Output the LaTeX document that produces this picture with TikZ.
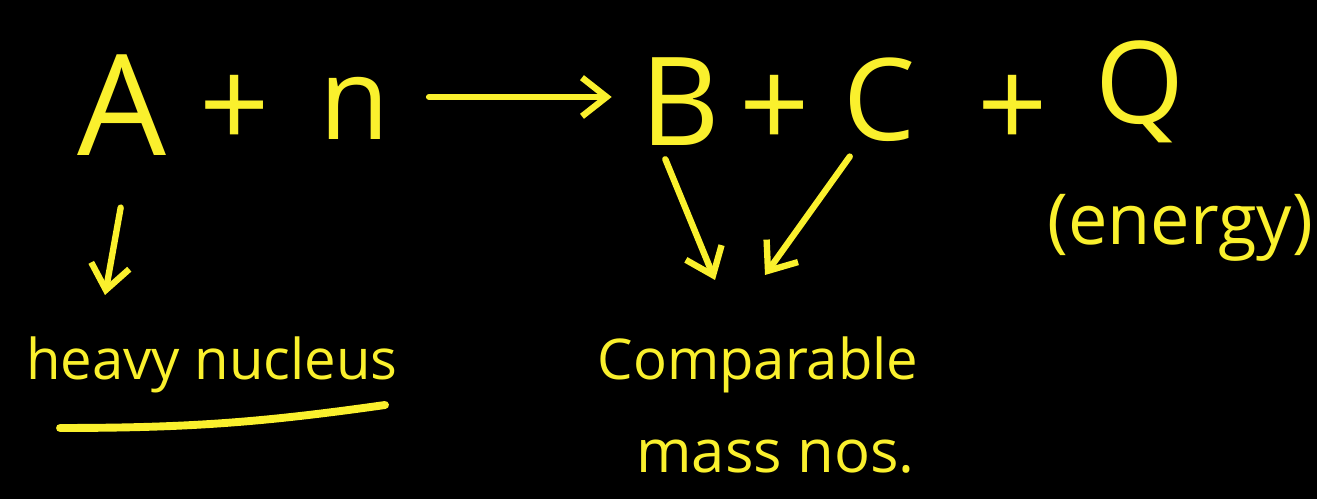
\documentclass[tikz,border=0pt]{standalone}
\usepackage{fontspec}
\setmainfont{Open Sans}
\usetikzlibrary{positioning,arrows.meta}
\definecolor{chalk}{RGB}{250,240,45}

\begin{document}
\begin{tikzpicture}[x=0.02cm,y=-0.02cm,
    term/.style={text=chalk,font=\fontsize{70}{70}\selectfont,inner sep=0pt},
    note/.style={text=chalk,font=\fontsize{32}{36}\selectfont,inner sep=0pt},
    arr/.style={draw=chalk,line width=3.6pt,line cap=round,-{Straight Barb[length=14pt,width=22pt]}}]
        % Fond
        \fill[black] (0,0) rectangle (1317,499);

        % Reaction
        \node[term,font=\fontsize{80}{80}\selectfont] (A) at (122,105) {A};
        \node[term] (plusA) at (235,112) {+};
        \node[term,font=\fontsize{65}{65}\selectfont] (n) at (355,108) {n};
        \node[term] (B) at (680,102) {B};
        \node[term] (plusB) at (775,112) {+};
        \node[term,font=\fontsize{65}{65}\selectfont] (C) at (880,100) {C};
        \node[term] (plusC) at (1013,112) {+};
        \node[term,font=\fontsize{65}{65}\selectfont] (Q) at (1140,92) {Q};
        \draw[arr,shorten <=22pt,shorten >=16pt] (n.east |- 0,97) -- (B.west |- 0,97);

        % Annotations
        \node[text=chalk,font=\fontsize{40}{44}\selectfont,inner sep=0pt] (energy) at (1180,228) {(energy)};
        \node[note] (heavy) at (212,365) {heavy nucleus};
        \node[note] (comp) at (758,365) {Comparable};
        \node[note,font=\fontsize{34}{38}\selectfont,below=26pt of comp.south west,anchor=north west,xshift=22pt] (mass) {mass nos.};
        \coordinate (ul1) at (60,428);
        \coordinate (ul2) at (385,405);
        \draw[chalk,line width=4.5pt,line cap=round] (ul1) to[bend right=4] (ul2);

        % Fleches
        \coordinate (tipA) at (105,295);
        \coordinate (tipB) at (715,280);
        \coordinate (tipC) at (765,275);
        \draw[arr,shorten <=30pt] (A.south -| 130,0) -- (tipA);
        \draw[arr,shorten <=8pt] (B.south -| 660,0) -- (tipB);
        \draw[arr,shorten <=10pt] (C.south -| 860,0) -- (tipC);
    \end{tikzpicture}
\end{document}
